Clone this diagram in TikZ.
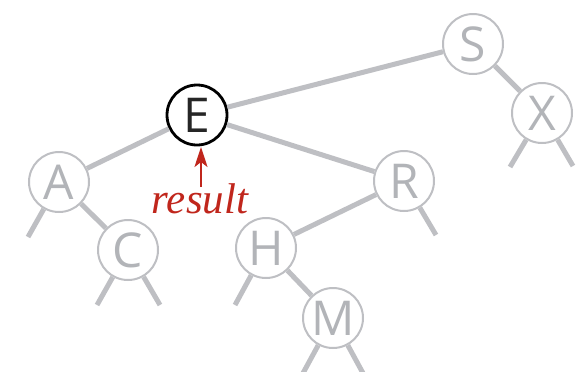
\documentclass[tikz,border=0pt]{standalone}
\usepackage{fontspec}
\usepackage{xcolor}
\usepackage{tikz}
\usetikzlibrary{positioning,arrows.meta}
\newfontfamily\keyfont{Open Sans}
\newfontfamily\notefont{Liberation Serif}
\definecolor{treegray}{RGB}{190,191,195}
\definecolor{keygray}{RGB}{178,180,184}
\definecolor{notered}{RGB}{192,38,28}

\begin{document}
\begin{tikzpicture}[
    x=0.5pt, y=-0.5pt,
    key/.style={circle, draw=treegray, line width=1pt, fill=white, minimum size=30pt, inner sep=0pt, text=keygray, font=\keyfont\fontsize{24}{24}\selectfont},
    found/.style={key, draw=black, line width=1.4pt, text=black!85},
    link/.style={draw=treegray, line width=2.5pt},
    note/.style={text=notered, font=\notefont\itshape\fontsize{21.5}{21.5}\selectfont}
]
\useasboundingbox (0,0) rectangle (578,371);

% Keys
\node[key] (S) at (473,44) {S};
\node[key] (X) at (542,113) {X};
\node[found] (E) at (197,115) {E};
\node[key] (A) at (59,182) {A};
\node[key] (C) at (128,250) {C};
\node[key] (R) at (404,181) {R};
\node[key] (H) at (266,248) {H};
\node[key] (M) at (333,318) {M};

% Null link ends
\coordinate (Xl) at (510,167);
\coordinate (Xr) at (573,166);
\coordinate (Al) at (28,237);
\coordinate (Cl) at (97,305);
\coordinate (Cr) at (160,305);
\coordinate (Rr) at (436,235);
\coordinate (Hl) at (235,305);
\coordinate (Ml) at (302,375);
\coordinate (Mr) at (364,375);

% Links
\draw[link] (S) -- (E);
\draw[link] (S) -- (X);
\draw[link] (X) -- (Xl);
\draw[link] (X) -- (Xr);
\draw[link] (E) -- (A);
\draw[link] (E) -- (R);
\draw[link] (A) -- (Al);
\draw[link] (A) -- (C);
\draw[link] (C) -- (Cl);
\draw[link] (C) -- (Cr);
\draw[link] (R) -- (H);
\draw[link] (R) -- (Rr);
\draw[link] (H) -- (Hl);
\draw[link] (H) -- (M);
\draw[link] (M) -- (Ml);
\draw[link] (M) -- (Mr);

% Result pointer
\node[note, anchor=base] (res) at (200,213) {result};
\coordinate (tail) at (201,187);
\coordinate (tip) at (201,147);
\draw[notered, line width=1.2pt, -{Stealth[length=10pt,width=6.5pt,inset=2.5pt]}] (tail) -- (tip);
\end{tikzpicture}
\end{document}
